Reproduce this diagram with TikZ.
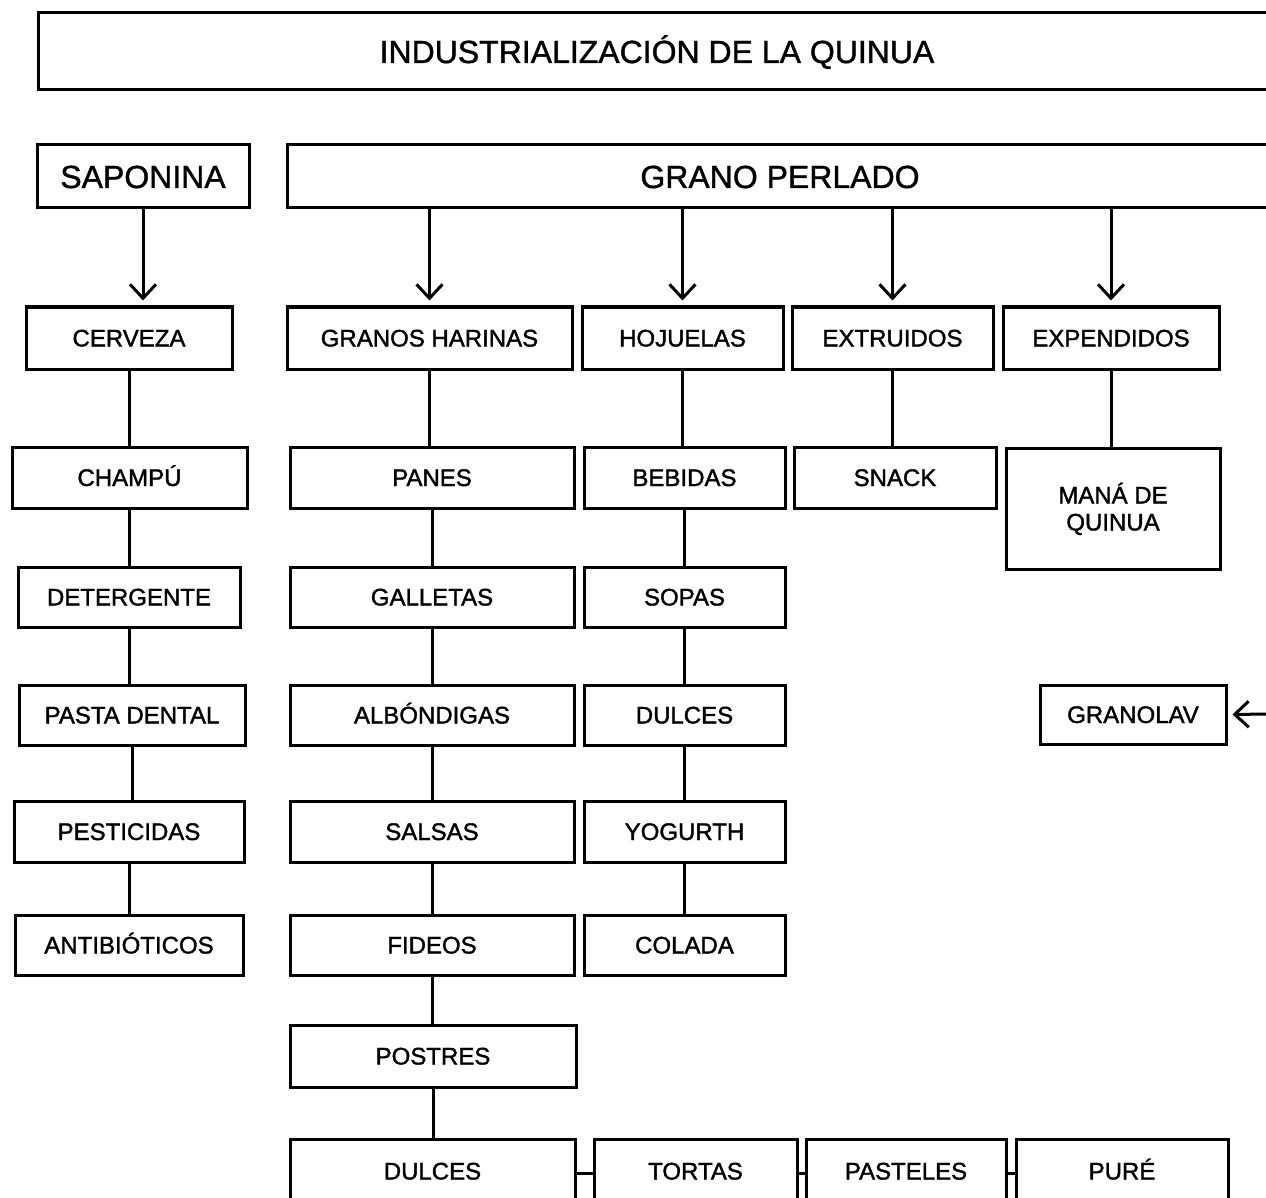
\documentclass[tikz,border=0pt]{standalone}
\usepackage{fontspec}
\setmainfont{Liberation Sans}
\newfontfamily\labelfont{Liberation Sans}[FakeBold=1.5]
\newfontfamily\headfont{Liberation Sans}[FakeBold=1.2]
\usetikzlibrary{arrows.meta}

\tikzset{
  box/.style={draw, line width=3pt, inner sep=0pt, align=center,
    text height=17pt, text depth=0pt,
    font=\labelfont\fontsize{24}{27}\selectfont},
  bigbox/.style={box, text height=23pt, font=\headfont\fontsize{32}{36}\selectfont},
  twoline/.style={text height=44pt, text depth=0pt},
  link/.style={line width=3pt},
  arr/.style={line width=3pt, -{Straight Barb[length=14pt,width=26pt,line width=3pt]}, shorten >=5pt},
}

% place a box given its left, top, right, bottom edges
\newcommand{\boxat}[7][box]{%
  \node[#1, minimum width={(#5)-(#3)}, minimum height={(#6)-(#4)}]
    (#2) at ({((#3)+(#5))/2},{((#4)+(#6))/2}) {#7};}

\begin{document}
\begin{tikzpicture}[x=1pt, y=-1pt]
\clip (0,0) rectangle (1266,1198);
\fill[white] (0,0) rectangle (1266,1198);

% headers
\boxat[bigbox]{title}{38}{13}{1276}{90}{INDUSTRIALIZACIÓN DE LA QUINUA}
\boxat[bigbox]{sap}{37}{145}{249}{208}{SAPONINA}
\boxat[bigbox]{gp}{287}{145}{1273}{208}{GRANO PERLADO}

% saponina column
\boxat{cer}{26}{307}{232}{369}{CERVEZA}
\boxat{cha}{12}{447}{247}{508}{CHAMPÚ}
\boxat{det}{18}{567}{240}{627}{DETERGENTE}
\boxat{pas}{19}{685}{245}{745}{PASTA DENTAL}
\boxat{pes}{14}{801}{244}{862}{PESTICIDAS}
\boxat{ant}{15}{915}{243}{975}{ANTIBIÓTICOS}

% granos harinas column
\boxat{gh}{287}{307}{572}{369}{GRANOS HARINAS}
\boxat{pan}{290}{447}{574}{508}{PANES}
\boxat{gal}{290}{567}{574}{627}{GALLETAS}
\boxat{alb}{290}{685}{574}{745}{ALBÓNDIGAS}
\boxat{sal}{290}{801}{574}{862}{SALSAS}
\boxat{fid}{290}{915}{574}{975}{FIDEOS}
\boxat{pos}{290}{1025}{576}{1087}{POSTRES}
\boxat{dul}{290}{1139}{575}{1203}{DULCES}
\boxat{tor}{594}{1139}{797}{1203}{TORTAS}
\boxat{pst}{806}{1139}{1006}{1203}{PASTELES}
\boxat{pur}{1016}{1139}{1228}{1203}{PURÉ}

% hojuelas column
\boxat{hoj}{582}{307}{783}{369}{HOJUELAS}
\boxat{beb}{584}{447}{785}{508}{BEBIDAS}
\boxat{sop}{584}{567}{785}{627}{SOPAS}
\boxat{dlc}{584}{685}{785}{745}{DULCES}
\boxat{yog}{584}{801}{785}{862}{YOGURTH}
\boxat{col}{584}{915}{785}{975}{COLADA}

% extruidos and expendidos
\boxat{ext}{792}{307}{993}{369}{EXTRUIDOS}
\boxat{sna}{794}{447}{996}{508}{SNACK}
\boxat{exp}{1003}{307}{1219}{369}{EXPENDIDOS}
\boxat[box,twoline]{man}{1006}{448}{1220}{569}{MANÁ DE\\QUINUA}
\boxat{gra}{1040}{685}{1226}{744}{GRANOLAV}

% arrows from the headers
\draw[arr] (sap.south) -- (sap.south |- cer.north);
\draw[arr] (gp.south -| gh.north) -- (gh.north);
\draw[arr] (gp.south -| hoj.north) -- (hoj.north);
\draw[arr] (gp.south -| ext.north) -- (ext.north);
\draw[arr] (gp.south -| exp.north) -- (exp.north);

% incoming arrow to granolav
\coordinate (grain) at (1272,714);
\draw[arr] (grain) -- (gra.east);

% vertical chains
\foreach \a/\b in {cer/cha, cha/det, det/pas, pas/pes, pes/ant,
                   gh/pan, pan/gal, gal/alb, alb/sal, sal/fid, fid/pos, pos/dul,
                   hoj/beb, beb/sop, sop/dlc, dlc/yog, yog/col,
                   ext/sna, exp/man}
  \draw[link] (\a.south) -- (\a.south |- \b.north);

% horizontal links in the bottom row
\foreach \a/\b in {dul/tor, tor/pst, pst/pur}
  \draw[link] ([yshift=-2pt]\a.east) -- ([yshift=-2pt]\a.east -| \b.west);

\end{tikzpicture}
\end{document}
